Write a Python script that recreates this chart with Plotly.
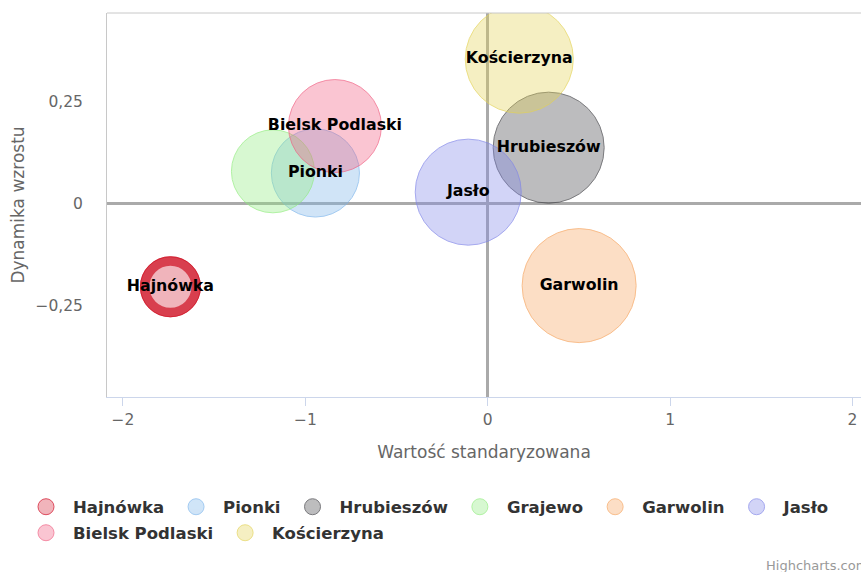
import plotly.graph_objects as go

# ---- data ----
miasta = ["Hajnówka", "Pionki", "Hrubieszów", "Grajewo", "Garwolin", "Jasło",
          "Bielsk Podlaski", "Kościerzyna"]
wartosc_std = [-1.740, -0.945, 0.334, -1.178, 0.501, -0.107, -0.838, 0.173]
dynamika = [-0.203, 0.076, 0.138, 0.080, -0.200, 0.029, 0.191, 0.355]
wielkosc = [90, 194, 308, 172, 325, 281, 216, 292]
ukryte_etykiety = ["Grajewo"]  # label hidden in the reference (overlaps Pionki)

x_ticks = [-2, -1, 0, 1, 2]
x_ticktext = ["−2", "−1", "0", "1", "2"]
y_ticks = [-0.25, 0, 0.25]
y_ticktext = ["−0,25", "0", "0,25"]

# ---- styles ----
kolory = ["#d0021b", "#7cb5ec", "#434348", "#90ed7d", "#f7a35c", "#8085e9",
          "#f15c80", "#e4d354"]
legenda = ["legend", "legend", "legend", "legend", "legend", "legend",
           "legend2", "legend2"]
SIZEREF = 0.05
FONT = "DejaVu Sans"


def rgba(hexc, a):
    h = hexc.lstrip("#")
    return "rgba(%d,%d,%d,%.2f)" % (int(h[0:2], 16), int(h[2:4], 16), int(h[4:6], 16), a)


fig = go.Figure()

for i, name in enumerate(miasta):
    fig.add_trace(go.Scatter(
        x=[wartosc_std[i]], y=[dynamika[i]], name=name, mode="markers",
        legend=legenda[i],
        marker=dict(size=[wielkosc[i]], sizemode="area", sizeref=SIZEREF,
                    color=rgba(kolory[i], 0.5 if i else 0.42),
                    line=dict(color=kolory[i], width=1)),
        hoverinfo="skip",
    ))
    if i == 0:
        # highlighted ring around Hajnówka
        fig.add_trace(go.Scatter(
            x=[wartosc_std[i]], y=[dynamika[i]], mode="markers", showlegend=False,
            marker=dict(size=[wielkosc[i]], sizemode="area", sizeref=SIZEREF * 1.36,
                        color="rgba(0,0,0,0)",
                        line=dict(color="#cf0f20", width=9.5)),
            hoverinfo="skip",
        ))

# data labels on top of everything
etykiety = ["" if m in ukryte_etykiety else m for m in miasta]
fig.add_trace(go.Scatter(
    x=wartosc_std, y=dynamika, text=etykiety, mode="text", showlegend=False,
    textposition="middle center",
    textfont=dict(family=FONT, size=15.8, color="#000000", weight="bold"),
    hoverinfo="skip",
))

PLOT_L, PLOT_T, PLOT_B = 107, 13, 175
H, W = 572, 861
ph = H - PLOT_T - PLOT_B
pw = W - PLOT_L


def py(ypx):
    return (H - PLOT_B - ypx) / ph


def px(xpx):
    return (xpx - PLOT_L) / pw


legend_common = dict(orientation="h", xanchor="left", yanchor="middle",
                     font=dict(family=FONT, size=16.5, color="#333333", weight="bold"),
                     bgcolor="rgba(0,0,0,0)", itemwidth=44, itemsizing="trace",
                     xref="paper", yref="paper")

fig.update_layout(
    width=W, height=H,
    margin=dict(l=PLOT_L, r=0, t=PLOT_T, b=PLOT_B, autoexpand=False),
    paper_bgcolor="white", plot_bgcolor="white",
    font=dict(family=FONT, color="#666666"),
    xaxis=dict(range=[-2.0877, 2.0466], tickvals=x_ticks, ticktext=x_ticktext,
               showgrid=False, zeroline=True, zerolinecolor="#aaaaaa", zerolinewidth=3,
               showline=True, linecolor="#ccd6eb", linewidth=1,
               ticks="outside", ticklen=8, tickcolor="#ccd6eb", tickwidth=1,
               tickfont=dict(size=15.5, color="#666666"),
               title=dict(text="Wartość standaryzowana", font=dict(size=17, color="#666666"),
                          standoff=18)),
    yaxis=dict(range=[-0.473, 0.468], tickvals=y_ticks, ticktext=y_ticktext,
               showgrid=False, zeroline=True, zerolinecolor="#aaaaaa", zerolinewidth=3,
               showline=True, linecolor="#c8c8c8", linewidth=1,
               ticks="", ticklabelstandoff=20,
               tickfont=dict(size=15.5, color="#666666"),
               title=dict(text="Dynamika wzrostu", font=dict(size=17, color="#666666"),
                          standoff=6)),
    legend=dict(x=px(19), y=py(507), **legend_common),
    legend2=dict(x=px(19), y=py(533), **legend_common),
    shapes=[dict(type="line", xref="paper", yref="paper", x0=0, x1=1, y0=1, y1=1,
                 line=dict(color="#c8c8c8", width=1))],
    annotations=[dict(text="Highcharts.com", xref="paper", yref="paper",
                      x=px(764), y=py(565), xanchor="left", yanchor="middle",
                      showarrow=False, font=dict(size=13, color="#999999"))],
    showlegend=True,
)

fig.write_html(
    "out.html",
    config={"displayModeBar": False},
    post_script="document.body.style.margin='0px';document.body.style.overflow='hidden';",
)
